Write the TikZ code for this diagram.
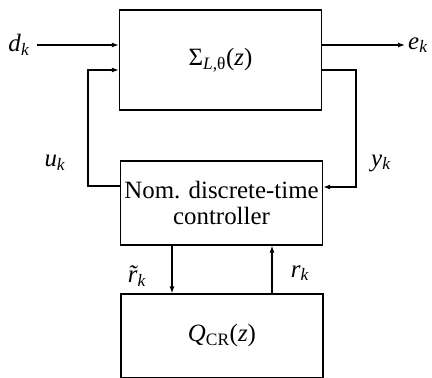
\documentclass[tikz,border=0pt]{standalone}
\usepackage{fontspec}
\setmainfont{Liberation Serif}
\usetikzlibrary{arrows.meta,positioning}

% indice en italique, style Times
\newcommand{\indice}[2]{\textit{#1}\textsubscript{\textit{#2}}}

\begin{document}
\begin{tikzpicture}[
    x=1bp, y=-1bp,
    bloc/.style={draw, line width=1.4bp, minimum width=202bp, inner sep=0pt, align=center},
    fleche/.style={line width=1.2bp, -{Latex[length=7bp,width=5bp]}},
    font=\fontsize{25}{27}\selectfont
]
\useasboundingbox (0,0) rectangle (432,378);

% Blocs
\node[bloc, minimum height=100bp] (sys) at (220.5,60) {Σ\textsubscript{\textit{L},θ}(\textit{z})};
\node[bloc, minimum height=84bp] (ctrl) at (221.5,203) {Nom. discrete-time\\controller};
\node[bloc, minimum height=84bp] (qcr) at (222,336) {\textit{Q}\textsubscript{CR}(\textit{z})};

% Points auxiliaires
\coordinate (din) at (37,45);
\coordinate (eout) at (405,45);
\coordinate (gauche) at (88,70);
\coordinate (droite) at (356,70);

% Entrees et sorties
\draw[fleche] (din) -- (din -| sys.west);
\draw[fleche] (sys.east |- eout) -- (eout);
\node (d) at (19,45) {\indice{d}{k}};
\node (e) at (418,45) {\indice{e}{k}};

% Boucle u_k
\draw[fleche] (ctrl.west |- 0,186) -| (gauche) -- (gauche -| sys.west);
\node (u) at (55,163) {\indice{u}{k}};

% Boucle y_k
\draw[fleche] (sys.east |- droite) -- (droite) |- (ctrl.east |- 0,187);
\node (y) at (381,163) {\indice{y}{k}};

% Liaisons avec Q_CR
\draw[fleche] (ctrl.south -| 172,0) -- (qcr.north -| 172,0);
\draw[fleche] (qcr.north -| 272,0) -- (ctrl.south -| 272,0);
\node (rt) at (137,276) {\indice{r\llap{˜\kern0.05em}}{k}};
\node (r) at (300,273) {\indice{r}{k}};

\end{tikzpicture}
\end{document}
